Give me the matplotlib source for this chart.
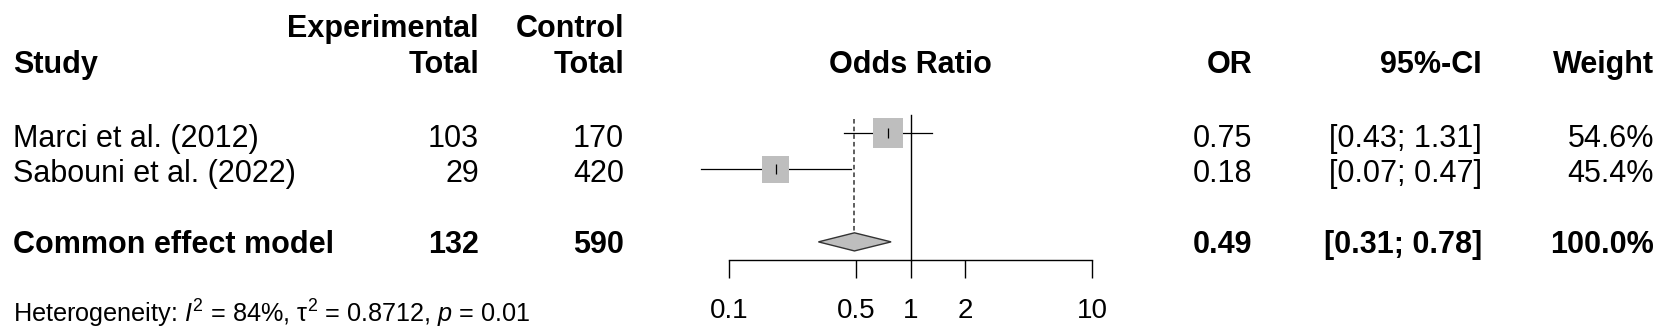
import matplotlib
matplotlib.use("Agg")
import matplotlib.pyplot as plt
from matplotlib.ticker import FixedLocator, FixedFormatter, NullLocator

plt.rcParams["font.family"] = ["Liberation Sans", "DejaVu Sans"]
plt.rcParams["mathtext.fontset"] = "custom"
plt.rcParams["mathtext.rm"] = "Liberation Sans"
plt.rcParams["mathtext.it"] = "Liberation Sans:italic"
plt.rcParams["mathtext.bf"] = "Liberation Sans:bold"

# study data
studies = ["Marci et al. (2012)", "Sabouni et al. (2022)"]
exp_total = [103, 29]
ctrl_total = [170, 420]
odds = [0.75, 0.18]
ci_lo = [0.43, 0.07]
ci_hi = [1.31, 0.47]
weights = [54.6, 45.4]

# common effect model
pooled_or = 0.49
pooled_lo = 0.31
pooled_hi = 0.78
het_text = r"Heterogeneity: $I^2$ = 84%, τ$^2$ = 0.8712, $p$ = 0.01"

axis_ticks = [0.1, 0.5, 1, 2, 10]
axis_labels = ["0.1", "0.5", "1", "2", "10"]

W, H = 1665, 336
FS = 22
GREY = "#bebebe"

fig = plt.figure(figsize=(W / 100, H / 100), dpi=100)

# text layer in pixel coordinates
tax = fig.add_axes([0, 0, 1, 1])
tax.set_xlim(0, W)
tax.set_ylim(H, 0)
tax.axis("off")

X_STUDY, X_EXP, X_CTRL, X_PLOT = 13, 479, 624, 910
X_OR, X_CI, X_W = 1252, 1482, 1654

def txt(x, y, s, ha="left", bold=False, size=FS):
    tax.text(x, y, s, ha=ha, va="baseline", fontsize=size,
             fontweight="bold" if bold else "normal")

# header
txt(X_EXP, 37, "Experimental", "right", True)
txt(X_CTRL, 37, "Control", "right", True)
txt(X_STUDY, 73, "Study", bold=True)
txt(X_EXP, 73, "Total", "right", True)
txt(X_CTRL, 73, "Total", "right", True)
txt(X_PLOT, 73, "Odds Ratio", "center", True)
txt(X_OR, 73, "OR", "right", True)
txt(X_CI, 73, "95%-CI", "right", True)
txt(X_W, 73, "Weight", "right", True)

# study rows
row_base = [147, 182]
for i, name in enumerate(studies):
    y = row_base[i]
    txt(X_STUDY, y, name)
    txt(X_EXP, y, str(exp_total[i]), "right")
    txt(X_CTRL, y, str(ctrl_total[i]), "right")
    txt(X_OR, y, f"{odds[i]:.2f}", "right")
    txt(X_CI, y, f"[{ci_lo[i]:.2f}; {ci_hi[i]:.2f}]", "right")
    txt(X_W, y, f"{weights[i]:.1f}%", "right")

# pooled row
y = 253
txt(X_STUDY, y, "Common effect model", bold=True)
txt(X_EXP, y, str(sum(exp_total)), "right", True)
txt(X_CTRL, y, str(sum(ctrl_total)), "right", True)
txt(X_OR, y, f"{pooled_or:.2f}", "right", True)
txt(X_CI, y, f"[{pooled_lo:.2f}; {pooled_hi:.2f}]", "right", True)
txt(X_W, y, f"{sum(weights):.1f}%", "right", True)

txt(X_STUDY, 323, het_text, size=18.2)

# forest panel: log x axis from 0.1 to 10, rows 0.5..4.5
px_l, px_r, px_t, px_b = 729.3, 1092.0, 115.0, 260.0
fax = fig.add_axes([px_l / W, (H - px_b) / H, (px_r - px_l) / W, (px_b - px_t) / H])
fax.patch.set_alpha(0)
fax.set_xscale("log")
fax.set_xlim(0.1, 10)
fax.set_ylim(4.5, 0.5)
for side in ["top", "left", "right"]:
    fax.spines[side].set_visible(False)
fax.spines["bottom"].set_linewidth(1.0)
fax.xaxis.set_major_locator(FixedLocator(axis_ticks))
fax.xaxis.set_major_formatter(FixedFormatter(axis_labels))
fax.xaxis.set_minor_locator(NullLocator())
fax.tick_params(axis="x", direction="out", length=13, width=1.0, pad=14, labelsize=20)
fax.set_yticks([])

rows = [1, 2]
pooled_row = 4

# reference lines
fax.plot([1, 1], [0.5, 4.5], color="black", lw=1.0, zorder=1, clip_on=False)
fax.plot([pooled_or, pooled_or], [0.6, pooled_row], color="#333333", lw=1.1,
         ls=(0, (3, 2)), zorder=1)

# confidence intervals (may run past the axis), weighted squares, estimate ticks
for r, est, lo, hi in zip(rows, odds, ci_lo, ci_hi):
    fax.plot([lo, hi], [r, r], color="black", lw=0.9, zorder=2, clip_on=False)
sq_sizes = [w * 8.55 for w in weights]
fax.scatter(odds, rows, s=sq_sizes, marker="s", color=GREY, edgecolors="none", zorder=3)
fax.scatter(odds, rows, s=50, marker="|", color="black", linewidths=0.9, zorder=4)

# diamond for pooled estimate
h = 0.25
fax.fill([pooled_lo, pooled_or, pooled_hi, pooled_or],
         [pooled_row, pooled_row - h, pooled_row, pooled_row + h],
         facecolor=GREY, edgecolor="#333333", lw=1.0, zorder=3)

fig.savefig("out.png", dpi=100)
